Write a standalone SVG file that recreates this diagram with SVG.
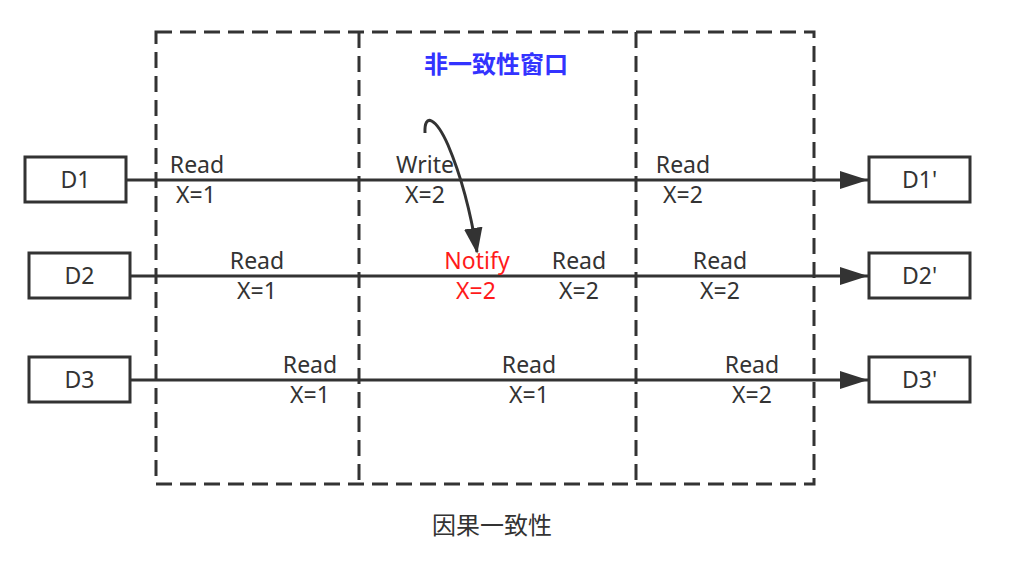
<svg xmlns="http://www.w3.org/2000/svg" width="1016" height="562" viewBox="0 0 1016 562">
<defs>
<style>
.box{fill:#fff;stroke:#333;stroke-width:3}
.lbl{font-family:"Noto Sans","Noto Sans CJK SC",sans-serif;font-size:23px;fill:#333;text-anchor:middle}
.edge{fill:none;stroke:#333;stroke-width:3}
.dash{fill:none;stroke:#333;stroke-width:3;stroke-dasharray:16 8}
.red{fill:#ff1a1a}
</style>
<marker id="arr" viewBox="0 0 28 18" refX="28" refY="9" markerWidth="28" markerHeight="18" markerUnits="userSpaceOnUse" orient="auto">
<path d="M0 0 L28 9 L0 18 Z" fill="#333"/>
</marker>
<marker id="arr2" viewBox="0 0 28 20" refX="26" refY="10" markerWidth="26" markerHeight="19" markerUnits="userSpaceOnUse" orient="auto">
<path d="M0 0 L28 10 L0 20 Z" fill="#333"/>
</marker>
</defs>
<rect width="1016" height="562" fill="#fff"/>
<g id="windows">
<rect class="dash" x="156" y="32" width="658" height="452"/>
<line class="dash" x1="359" y1="32" x2="359" y2="484"/>
<line class="dash" x1="636" y1="32" x2="636" y2="484"/>
</g>
<g id="connectors">
<line class="edge" x1="126" y1="180" x2="868" y2="180" marker-end="url(#arr)"/>
<line class="edge" x1="130" y1="276" x2="868" y2="276" marker-end="url(#arr)"/>
<line class="edge" x1="130" y1="380" x2="868" y2="380" marker-end="url(#arr)"/>
<path class="edge" d="M425 133 C424 112 436 118 448 145 C462 178 471 214 477 252" marker-end="url(#arr2)"/>
</g>
<g id="D1"><rect class="box" x="25" y="157" width="101" height="45"/><text class="lbl" x="75.5" y="188">D1</text></g>
<g id="D2"><rect class="box" x="29" y="253" width="101" height="45"/><text class="lbl" x="79.5" y="284">D2</text></g>
<g id="D3"><rect class="box" x="29" y="357" width="101" height="45"/><text class="lbl" x="79.5" y="388">D3</text></g>
<g id="D1p"><rect class="box" x="869" y="157" width="101" height="45"/><text class="lbl" x="919.5" y="188">D1'</text></g>
<g id="D2p"><rect class="box" x="869" y="253" width="101" height="45"/><text class="lbl" x="919.5" y="284">D2'</text></g>
<g id="D3p"><rect class="box" x="869" y="357" width="101" height="45"/><text class="lbl" x="919.5" y="388">D3'</text></g>
<g id="labels">
<text class="lbl" x="197" y="173">Read</text><text class="lbl" x="196" y="203">X=1</text>
<text class="lbl" x="425" y="173">Write</text><text class="lbl" x="425" y="203">X=2</text>
<text class="lbl" x="683" y="173">Read</text><text class="lbl" x="683" y="203">X=2</text>
<text class="lbl" x="257" y="269">Read</text><text class="lbl" x="257" y="299">X=1</text>
<text class="lbl red" x="477" y="269">Notify</text><text class="lbl red" x="476" y="299">X=2</text>
<text class="lbl" x="579" y="269">Read</text><text class="lbl" x="579" y="299">X=2</text>
<text class="lbl" x="720" y="269">Read</text><text class="lbl" x="720" y="299">X=2</text>
<text class="lbl" x="310" y="373">Read</text><text class="lbl" x="310" y="403">X=1</text>
<text class="lbl" x="529" y="373">Read</text><text class="lbl" x="529" y="403">X=1</text>
<text class="lbl" x="752" y="373">Read</text><text class="lbl" x="752" y="403">X=2</text>
<text x="496" y="73" style="font-family:'Noto Sans CJK SC',sans-serif;font-size:24px;font-weight:bold;fill:#3333ff;text-anchor:middle">非一致性窗口</text>
<text x="492" y="534" style="font-family:'Noto Sans CJK SC',sans-serif;font-size:24px;fill:#333;text-anchor:middle">因果一致性</text>
</g>
</svg>
